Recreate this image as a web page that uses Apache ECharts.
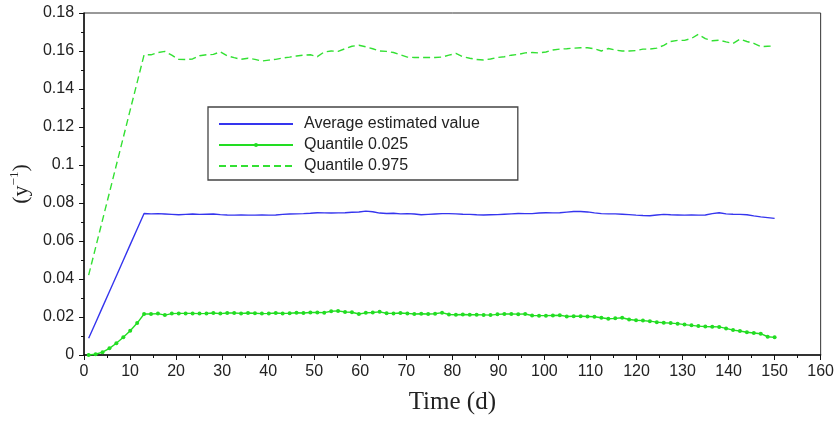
<!DOCTYPE html>
<html>
<head>
<meta charset="utf-8">
<script src="https://cdn.jsdelivr.net/npm/echarts@6/dist/echarts.min.js"></script>
<style>html,body{margin:0;padding:0;background:#fff;}#c{width:837px;height:432px;}</style>
</head>
<body>
<div id="c"></div>
<script>
const times = [1.00,2.51,4.01,5.52,7.02,8.53,10.03,11.54,13.04,14.55,16.05,17.56,19.06,20.57,22.07,23.58,25.08,26.59,28.09,29.60,31.10,32.61,34.11,35.62,37.12,38.63,40.13,41.64,43.14,44.65,46.15,47.66,49.16,50.67,52.17,53.68,55.18,56.69,58.19,59.70,61.20,62.71,64.21,65.72,67.22,68.73,70.23,71.74,73.24,74.75,76.25,77.76,79.26,80.77,82.27,83.78,85.28,86.79,88.29,89.80,91.30,92.81,94.31,95.82,97.32,98.83,100.33,101.84,103.34,104.85,106.35,107.86,109.36,110.87,112.37,113.88,115.38,116.89,118.39,119.90,121.40,122.91,124.41,125.92,127.42,128.93,130.43,131.94,133.44,134.95,136.45,137.96,139.46,140.97,142.47,143.98,145.48,146.99,148.49,150.00];

const averageValues = [0.0088,0.0170,0.0252,0.0334,0.0416,0.0499,0.0581,0.0663,0.0745,0.0743,0.0744,0.0742,0.0740,0.0738,0.0740,0.0742,0.0740,0.0741,0.0742,0.0739,0.0737,0.0736,0.0737,0.0736,0.0736,0.0737,0.0736,0.0737,0.0740,0.0742,0.0743,0.0744,0.0746,0.0749,0.0748,0.0747,0.0748,0.0749,0.0751,0.0753,0.0757,0.0754,0.0747,0.0745,0.0746,0.0743,0.0744,0.0742,0.0738,0.0740,0.0742,0.0744,0.0744,0.0743,0.0741,0.0740,0.0738,0.0737,0.0738,0.0739,0.0741,0.0743,0.0745,0.0744,0.0744,0.0747,0.0749,0.0748,0.0749,0.0752,0.0755,0.0755,0.0753,0.0748,0.0744,0.0743,0.0743,0.0741,0.0739,0.0736,0.0734,0.0733,0.0737,0.0740,0.0738,0.0737,0.0736,0.0737,0.0736,0.0737,0.0744,0.0749,0.0743,0.0741,0.0740,0.0738,0.0732,0.0727,0.0723,0.0719];

const quantile025 = [0.0000,0.0004,0.0015,0.0035,0.0062,0.0093,0.0128,0.0168,0.0216,0.0216,0.0218,0.0210,0.0218,0.0219,0.0219,0.0219,0.0218,0.0219,0.0221,0.0218,0.0221,0.0221,0.0219,0.0221,0.0220,0.0218,0.0219,0.0221,0.0219,0.0220,0.0222,0.0221,0.0224,0.0224,0.0223,0.0230,0.0232,0.0226,0.0225,0.0216,0.0222,0.0224,0.0227,0.0220,0.0219,0.0221,0.0219,0.0216,0.0217,0.0216,0.0217,0.0223,0.0213,0.0212,0.0213,0.0212,0.0212,0.0211,0.0210,0.0214,0.0216,0.0216,0.0215,0.0216,0.0208,0.0207,0.0207,0.0208,0.0209,0.0203,0.0204,0.0204,0.0203,0.0201,0.0196,0.0191,0.0193,0.0196,0.0187,0.0183,0.0181,0.0178,0.0173,0.0170,0.0168,0.0165,0.0160,0.0156,0.0152,0.0150,0.0149,0.0148,0.0140,0.0131,0.0126,0.0120,0.0116,0.0112,0.0096,0.0093];

const quantile975 = [0.0420,0.0565,0.0710,0.0855,0.1000,0.1145,0.1290,0.1435,0.1580,0.1580,0.1592,0.1598,0.1578,0.1556,0.1555,0.1558,0.1575,0.1580,0.1582,0.1596,0.1575,0.1565,0.1556,0.1562,0.1556,0.1547,0.1552,0.1556,0.1563,0.1568,0.1574,0.1578,0.1580,0.1570,0.1595,0.1600,0.1598,0.1612,0.1625,0.1630,0.1622,0.1612,0.1600,0.1598,0.1592,0.1580,0.1568,0.1566,0.1566,0.1566,0.1566,0.1568,0.1578,0.1587,0.1570,0.1562,0.1555,0.1553,0.1558,0.1566,0.1570,0.1578,0.1582,0.1590,0.1592,0.1590,0.1595,0.1605,0.1610,0.1612,0.1615,0.1617,0.1617,0.1612,0.1600,0.1613,0.1605,0.1600,0.1600,0.1602,0.1610,0.1610,0.1615,0.1630,0.1650,0.1656,0.1656,0.1666,0.1688,0.1665,0.1654,0.1657,0.1648,0.1640,0.1662,0.1650,0.1640,0.1623,0.1625,0.1627];

const seriesNames = ['Average estimated value', 'Quantile 0.025', 'Quantile 0.975'];
const xAxisTitle = 'Time (d)';

const pairs = vals => vals.map((v, i) => [times[i], v]);

const chart = echarts.init(document.getElementById('c'), null, {renderer: 'canvas'});
const labelFont = {fontFamily: 'Liberation Sans, Arial, sans-serif', fontSize: 16, color: '#222'};

chart.setOption({
  animation: false,
  backgroundColor: '#fff',
  grid: {left: 81, right: 9, top: 13, bottom: 77, show: true, borderColor: '#333', borderWidth: 1, backgroundColor: 'transparent'},
  legend: {
    orient: 'vertical',
    left: 208, top: 107,
    data: [
      {name: seriesNames[0], itemStyle: {opacity: 0}},
      {name: seriesNames[1]},
      {name: seriesNames[2], itemStyle: {opacity: 0}}
    ],
    itemWidth: 74, itemHeight: 5, itemGap: 5,
    padding: [9, 38, 6, 10],
    backgroundColor: '#fff',
    borderColor: '#444', borderWidth: 1.3,
    textStyle: Object.assign({}, labelFont, {lineHeight: 14, padding: [0, 0, 0, 6]})
  },
  xAxis: {
    type: 'value', min: 0, max: 160, interval: 10,
    name: xAxisTitle, nameLocation: 'middle', nameGap: 35,
    nameTextStyle: {fontFamily: 'Liberation Serif, Times New Roman, serif', fontSize: 25, color: '#222'},
    axisLine: {show: true, onZero: false, lineStyle: {color: '#111', width: 1.5}},
    axisTick: {show: true, length: 5, lineStyle: {color: '#111'}},
    minorTick: {show: true, splitNumber: 2, length: 3, lineStyle: {color: '#111'}},
    axisLabel: Object.assign({margin: 9}, labelFont),
    splitLine: {show: false}
  },
  yAxis: {
    type: 'value', min: 0, max: 0.18, interval: 0.02,
    name: '{a|(y}{b|−1}{a|)}', nameLocation: 'middle', nameGap: 50, nameRotate: 90,
    nameTextStyle: {
      rich: {
        a: {fontFamily: 'Liberation Serif, Times New Roman, serif', fontSize: 22, color: '#222', lineHeight: 26},
        b: {fontFamily: 'Liberation Serif, Times New Roman, serif', fontSize: 13, color: '#222', lineHeight: 14, verticalAlign: 'top'}
      }
    },
    axisLine: {show: true, onZero: false, lineStyle: {color: '#111', width: 1.5}},
    axisTick: {show: true, length: 5, lineStyle: {color: '#111'}},
    minorTick: {show: true, splitNumber: 2, length: 3, lineStyle: {color: '#111'}},
    axisLabel: Object.assign({margin: 10}, labelFont),
    splitLine: {show: false}
  },
  series: [
    {
      name: seriesNames[0], type: 'line', data: pairs(averageValues),
      symbol: 'none', color: '#3535ee',
      lineStyle: {width: 1.4, color: '#3535ee'}
    },
    {
      name: seriesNames[1], type: 'line', data: pairs(quantile025),
      symbol: 'circle', symbolSize: 4, showSymbol: true, color: '#22dd22',
      itemStyle: {color: '#22dd22'},
      lineStyle: {width: 1.4, color: '#22dd22'}
    },
    {
      name: seriesNames[2], type: 'line', data: pairs(quantile975),
      symbol: 'none', color: '#33e033',
      lineStyle: {width: 1.4, color: '#33e033', type: [7, 4]}
    }
  ]
});
</script>
</body>
</html>
